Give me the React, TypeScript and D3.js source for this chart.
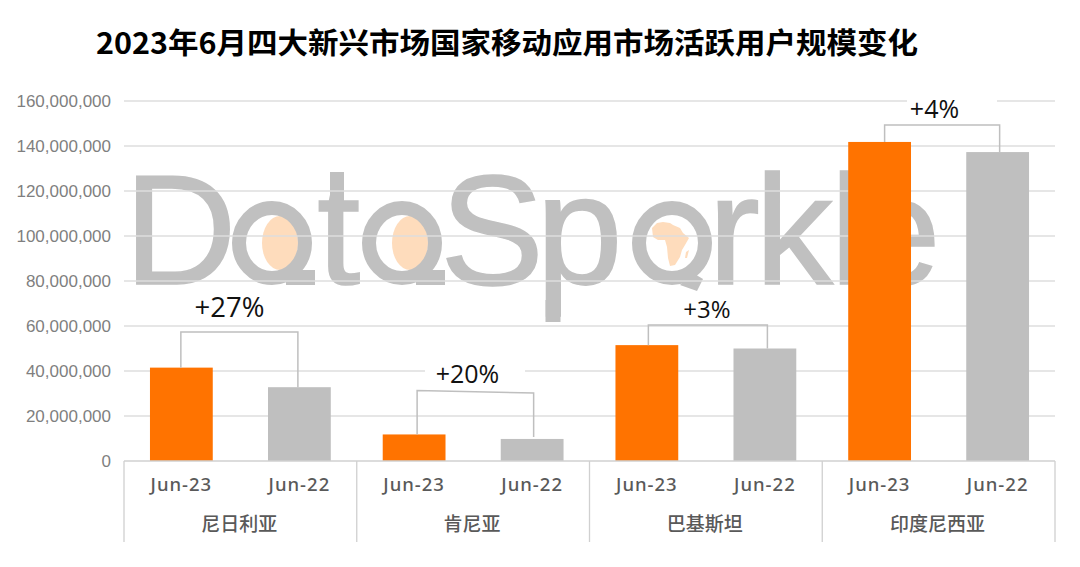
import React from "react";
import * as d3 from "d3";

const title = "2023年6月四大新兴市场国家移动应用市场活跃用户规模变化";
const countries = ["尼日利亚", "肯尼亚", "巴基斯坦", "印度尼西亚"];
const periods = ["Jun-23", "Jun-22"];
const jun23 = [41500000, 11800000, 51500000, 141800000];
const jun22 = [32800000, 9800000, 50000000, 137300000];
const growth = ["+27%", "+20%", "+3%", "+4%"];
const ticks = [0, 20000000, 40000000, 60000000, 80000000, 100000000, 120000000, 140000000, 160000000];

const W = 1080, H = 567;
const left = 124, right = 1055, top = 101, bottom = 461, axisEnd = 542;
const ORANGE = "#ff7300", GRAY = "#bfbfbf", GRID = "#dedede", AXIS = "#d0d0d0";
const SANS = "'Liberation Sans', sans-serif";
const CJK = "'Noto Sans CJK SC', sans-serif";
const WM = "#c0c0c0", PEACH = "#fedcbc";

const y = d3.scaleLinear().domain([0, 160000000]).range([bottom, top]);
const gx = d3.scaleBand<string>().domain(countries).range([left, right]);
const bx = d3.scaleBand<string>().domain(periods).range([0, gx.bandwidth()]).paddingInner(0.468).paddingOuter(0.22);
const fmt = d3.format(",");

const brackets = [
  { topL: 332, topR: 332, lab: 229.5, ly: 317, size: 27.5, dl: -0.5, dr: -1.5, gap: 0 },
  { topL: 390.5, topR: 393, lab: 467.5, ly: 383, size: 25, dl: 3, dr: 1.5, gap: 2 },
  { topL: 325, topR: 325, lab: 707, ly: 318, size: 24, dl: 1.5, dr: 2.5, gap: 0 },
  { topL: 125, topR: 125, lab: 934.5, ly: 118, size: 25, dl: 5, dr: 2, gap: 0 },
];

const Letter = ({ c, x, yy = 284 }: { c: string; x: number; yy?: number }) => (
  <text x={x} y={yy} fontFamily={SANS} fontSize={156} fill={WM} stroke={WM} strokeWidth={1.5}>{c}</text>
);

const RoundA = ({ cx, peach = true, tail = true }: { cx: number; peach?: boolean; tail?: boolean }) => (
  <g>
    {peach && <ellipse cx={cx + 8} cy={243} rx={18} ry={27} fill={PEACH} />}
    <ellipse cx={cx} cy={243} rx={33} ry={35} fill="none" stroke={WM} strokeWidth={14} />
    {tail && <rect x={cx + 14} y={270} width={29} height={15} fill={WM} />}
  </g>
);

export default function App() {
  return (
    <svg width={W} height={H} style={{ position: "absolute", left: 0, top: 0, background: "#fff" }}>
      <text x={96} y={54} fontFamily={CJK} fontWeight={700} fontSize={29} fill="#000" textLength={822} lengthAdjust="spacingAndGlyphs">{title}</text>

      <g>
        <Letter c="D" x={124} />
        <RoundA cx={272} />
        <Letter c="t" x={317} />
        <rect x={330} y={172} width={14} height={30} fill={WM} />
        <RoundA cx={402} />
        <Letter c="S" x={440} />
        <Letter c="p" x={536} />
        <rect x={545.5} y={300} width={15} height={22} fill={WM} />
        <RoundA cx={672} peach={false} tail={false} />
        <path d="M693 273 L703 279 L697 291 L680 285 Z" fill={WM} />
        <Letter c="r" x={708} />
        <Letter c="k" x={755} />
        <Letter c="l" x={830} />
        <Letter c="e" x={854} />
        <path d="M652 228 L657 223 L663 222 L670 223 L673 225 L680 228 L683 233 L689 238 L685 245 L682 250 L680 257 L675 265 L670 266 L668 258 L667 247 L665 240 L658 240 L653 237 Z" fill={PEACH} />
        <path d="M686 252 L689 250 L687 258 L685 258 Z" fill={PEACH} />
      </g>

      {ticks.map((t) => (
        <g key={t}>
          {t > 0 && <line x1={left} x2={right} y1={y(t)} y2={y(t)} stroke={GRID} strokeWidth={1.6} />}
          <text x={111} y={y(t) + 6} textAnchor="end" fontFamily={SANS} fontSize={17} fill="#7f7f7f">{fmt(t)}</text>
        </g>
      ))}

      <rect x={907} y={97} width={90} height={6} fill="#fff" />
      <rect x={425} y={368} width={100} height={6} fill="#fff" />

      {countries.map((c, i) => {
        const g0 = gx(c)!;
        const x23 = g0 + bx(periods[0])!;
        const x22 = g0 + bx(periods[1])!;
        const w = bx.bandwidth();
        const b = brackets[i];
        const xl = x23 + w / 2 + b.dl;
        const xr = x22 + w / 2 + b.dr;
        return (
          <g key={c}>
            <rect x={x23} y={y(jun23[i])} width={w} height={bottom - y(jun23[i])} fill={ORANGE} />
            <rect x={x22} y={y(jun22[i])} width={w} height={bottom - y(jun22[i])} fill={GRAY} />
            <path
              d={`M${xl} ${y(jun23[i])} V${b.topL} L${xr} ${b.topR} V${y(jun22[i]) - b.gap}`}
              fill="none" stroke={GRAY} strokeWidth={1.5}
            />
            <text x={b.lab} y={b.ly} textAnchor="middle" fontFamily="'Open Sans', sans-serif" fontSize={b.size} fill="#111">{growth[i]}</text>
            {periods.map((p) => (
              <text key={p} x={g0 + bx(p)! + w / 2} y={491} textAnchor="middle" fontFamily="'Noto Sans', sans-serif" fontWeight={500} fontSize={18.5} letterSpacing={1} fill="#595959">{p}</text>
            ))}
            <text x={g0 + gx.bandwidth() / 2 - 1} y={531} textAnchor="middle" fontFamily={CJK} fontWeight={500} fontSize={19} fill="#595959">{c}</text>
          </g>
        );
      })}

      <line x1={left} x2={right} y1={bottom} y2={bottom} stroke={AXIS} strokeWidth={1.5} />
      {[...countries.map((c) => gx(c)!), right].map((x) => (
        <line key={x} x1={x} x2={x} y1={bottom} y2={axisEnd} stroke={AXIS} strokeWidth={1.3} />
      ))}
    </svg>
  );
}
